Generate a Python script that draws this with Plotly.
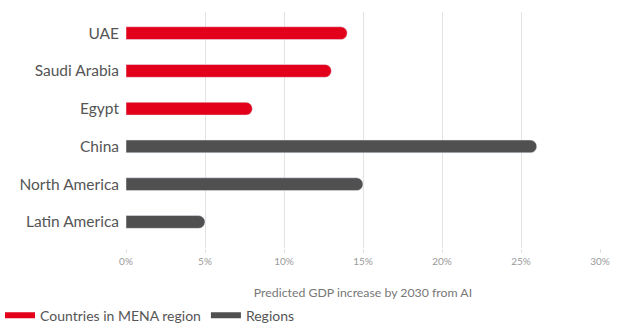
import plotly.graph_objects as go

mena_countries = ["UAE", "Saudi Arabia", "Egypt"]
mena_values = [14, 13, 8]
regions = ["China", "North America", "Latin America"]
region_values = [26, 15, 5]
categories = mena_countries + regions
x_ticks = [0, 5, 10, 15, 20, 25, 30]
x_tick_labels = ["0%", "5%", "10%", "15%", "20%", "25%", "30%"]

RED = "#e2001a"
GREY = "#505050"

fig = go.Figure()
fig.add_trace(go.Bar(
    y=mena_countries, x=mena_values, orientation="h",
    name="Countries in MENA region", marker_color=RED,
    width=0.34, showlegend=False))
fig.add_trace(go.Bar(
    y=regions, x=region_values, orientation="h",
    name="Regions", marker_color=GREY,
    width=0.34, showlegend=False))
# legend entries (wide swatches)
fig.add_trace(go.Scatter(x=[None], y=[None], mode="lines",
                         line=dict(color=RED, width=6),
                         name="Countries in MENA region"))
fig.add_trace(go.Scatter(x=[None], y=[None], mode="lines",
                         line=dict(color=GREY, width=6),
                         name="Regions"))

fig.update_layout(
    width=623, height=327,
    margin=dict(l=126, r=23, t=12, b=79),
    paper_bgcolor="white", plot_bgcolor="white",
    font=dict(family="Lato, sans-serif", color="#444"),
    barmode="overlay",
    barcornerradius=7,
    showlegend=True,
    legend=dict(orientation="h", xref="container", yref="container",
                x=0.0, y=0.035, xanchor="left", yanchor="middle",
                font=dict(size=14, color="#555"), itemwidth=30,
                traceorder="normal"),
    xaxis=dict(range=[0, 30], tickmode="array", tickvals=x_ticks,
               ticktext=x_tick_labels, automargin=False,
               showgrid=True, gridcolor="#e3e3e3", gridwidth=1,
               zeroline=False, showline=False,
               ticks="outside", ticklen=4, tickcolor="#e3e3e3",
               tickfont=dict(size=10, color="#999999"),
               title=dict(text="Predicted GDP increase by 2030 from AI",
                          font=dict(size=12.3, color="#777777"), standoff=22)),
    yaxis=dict(categoryorder="array", categoryarray=categories,
               range=[5.69, -0.56], showgrid=False, zeroline=False,
               ticks="", tickfont=dict(size=15.5, color="#555555"),
               ticklabelstandoff=6, automargin=False),
)
fig.write_html("out.html")
